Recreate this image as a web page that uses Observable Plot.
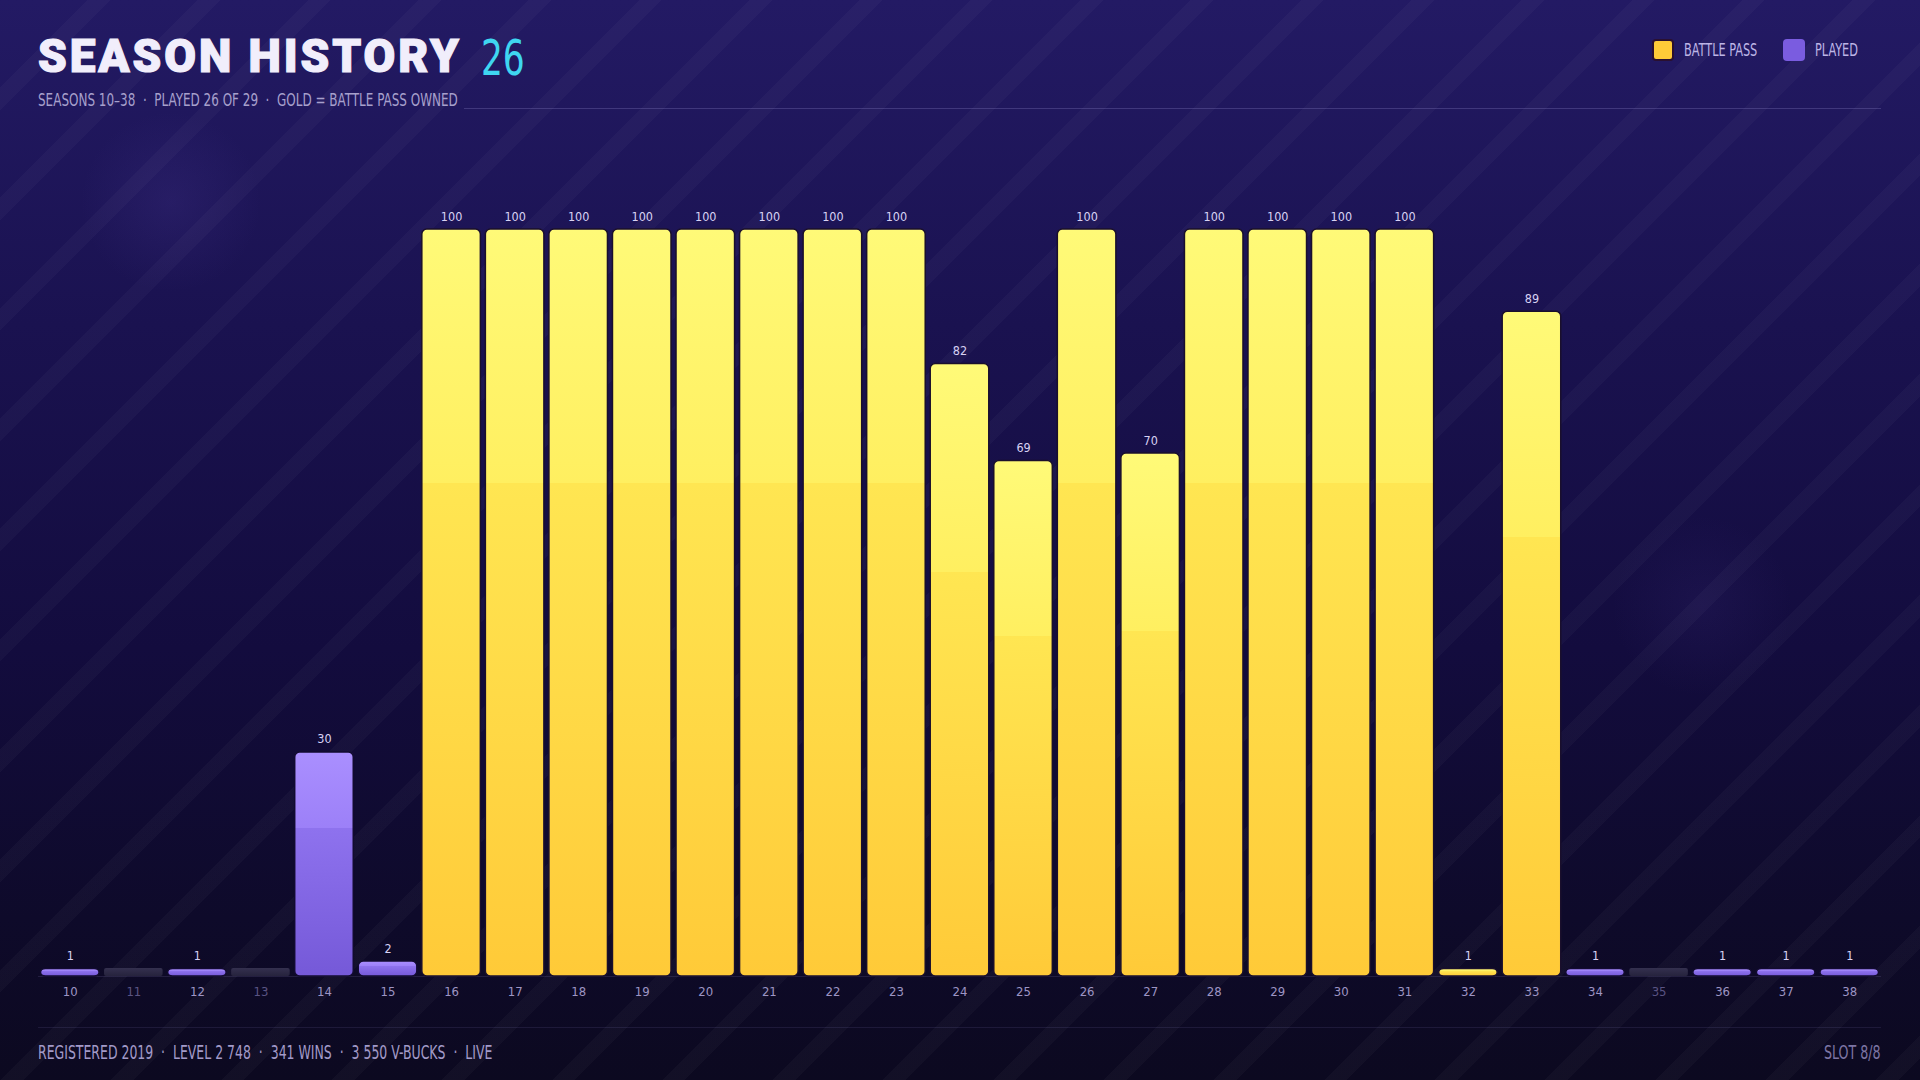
<!DOCTYPE html>
<html>
<head>
<meta charset="utf-8">
<script src="https://cdn.jsdelivr.net/npm/d3@7"></script>
<script src="https://cdn.jsdelivr.net/npm/@observablehq/plot@0.6"></script>
<style>
  html, body { margin: 0; padding: 0; }
  body {
    width: 1920px; height: 1080px; overflow: hidden; position: relative;
    background:
      radial-gradient(circle at 171px 202px, rgba(90,70,170,0.16) 0, rgba(90,70,170,0) 90px),
      radial-gradient(circle at 1702px 606px, rgba(90,70,170,0.10) 0, rgba(90,70,170,0) 90px),
      linear-gradient(180deg, #231a64 0%, #1a1250 30%, #130c3e 60%, #0e0a2a 85%, #0c0920 100%);
  }
  #stripes {
    position: absolute; inset: 0; pointer-events: none;
    background: repeating-linear-gradient(135deg, rgba(255,255,255,0) 0px, rgba(255,255,255,0) 62px, rgba(255,255,255,0.028) 62px, rgba(255,255,255,0.028) 78px);
  }
  .cond { font-family: "DejaVu Sans", sans-serif; font-stretch: condensed; white-space: nowrap; display: inline-block; transform-origin: 0 0; }
  #title { position: absolute; left: 38px; top: 26px; font-family: Roboto, "Noto Sans", sans-serif; font-weight: 900; font-size: 46px; color: #f1eefb; letter-spacing: 2.9px; line-height: 60px; white-space: nowrap; -webkit-text-stroke: 1.2px #f1eefb; }
  #num { position: absolute; left: 481px; top: 29px; font-size: 49px; color: #3fd6f0; line-height: 60px; transform: scaleX(0.78); }
  #subtitle { position: absolute; left: 38px; top: 89px; font-size: 18px; color: #a7a0cc; line-height: 22px; transform: scaleX(0.74); }
  #headline { position: absolute; top: 108px; height: 1px; right: 39px; background: rgba(160,150,220,0.25); }
  #legend { position: absolute; right: 62px; top: 39px; display: flex; align-items: center; }
  #legend .sw { width: 22px; height: 22px; border-radius: 4px; margin-right: 10px; box-sizing: border-box; flex: none; }
  #legend .item { display: flex; align-items: center; margin-left: 26px; }
  #legend .lab { font-size: 17px; color: #bdb5e6; transform: scaleX(0.74); line-height: 22px; }
  #legend .labwrap { display: inline-block; }
  #footline { position: absolute; left: 38px; right: 39px; top: 1027px; height: 1px; background: rgba(160,150,220,0.12); }
  #footer { position: absolute; left: 38px; top: 1041px; font-size: 19px; color: #a29ac8; transform: scaleX(0.73); }
  #slot { position: absolute; right: 39px; top: 1041px; font-size: 19px; color: #7d75a4; transform: scaleX(0.74); transform-origin: 100% 0; }
  #chart { position: absolute; left: 0; top: 120px; }
</style>
</head>
<body>
<div id="stripes"></div>
<div id="title">SEASON HISTORY</div>
<div id="num" class="cond">26</div>
<div id="subtitle" class="cond">SEASONS 10–38 &nbsp;·&nbsp; PLAYED 26 OF 29 &nbsp;·&nbsp; GOLD = BATTLE PASS OWNED</div>
<div id="headline"></div>
<div id="legend">
  <div class="item"><div class="sw" style="background:#ffcb38;border:2px solid #2a1030"></div><span class="labwrap"><span class="lab cond">BATTLE PASS</span></span></div>
  <div class="item"><div class="sw" style="background:#7a5ce0"></div><span class="labwrap"><span class="lab cond">PLAYED</span></span></div>
</div>
<div id="chart"></div>
<div id="footline"></div>
<div id="footer" class="cond">REGISTERED 2019 &nbsp;·&nbsp; LEVEL 2 748 &nbsp;·&nbsp; 341 WINS &nbsp;·&nbsp; 3 550 V-BUCKS &nbsp;·&nbsp; LIVE</div>
<div id="slot" class="cond" style="position:absolute">SLOT 8/8</div>
<script>
const seasons = [10,11,12,13,14,15,16,17,18,19,20,21,22,23,24,25,26,27,28,29,30,31,32,33,34,35,36,37,38];
const levels  = [1,0,1,0,30,2,100,100,100,100,100,100,100,100,82,69,100,70,100,100,100,100,1,89,1,0,1,1,1];
const battlePass = [0,0,0,0,0,0,1,1,1,1,1,1,1,1,1,1,1,1,1,1,1,1,1,1,0,0,0,0,0];

const data = seasons.map((s, i) => ({season: String(s), level: levels[i], bp: battlePass[i] === 1}));

// legend label wrappers take the scaled width so spacing follows the visible text
document.querySelectorAll("#legend .labwrap").forEach(w => {
  const inner = w.firstElementChild;
  w.style.width = inner.getBoundingClientRect().width + "px";
});

// header line starts where subtitle ends
const sub = document.getElementById("subtitle");
document.getElementById("headline").style.left = (sub.getBoundingClientRect().right + 6) + "px";

function defs() {
  const d = d3.create("svg:defs");
  const g = d.append("linearGradient").attr("id", "gold").attr("x1", 0).attr("y1", 0).attr("x2", 0).attr("y2", 1);
  g.append("stop").attr("offset", "0%").attr("stop-color", "#fffa78");
  g.append("stop").attr("offset", "34%").attr("stop-color", "#ffef60");
  g.append("stop").attr("offset", "34%").attr("stop-color", "#ffe652");
  g.append("stop").attr("offset", "100%").attr("stop-color", "#ffca38");
  const p = d.append("linearGradient").attr("id", "purple").attr("x1", 0).attr("y1", 0).attr("x2", 0).attr("y2", 1);
  p.append("stop").attr("offset", "0%").attr("stop-color", "#aa8fff");
  p.append("stop").attr("offset", "34%").attr("stop-color", "#9c80f8");
  p.append("stop").attr("offset", "34%").attr("stop-color", "#8e72ee");
  p.append("stop").attr("offset", "100%").attr("stop-color", "#7559d8");
  const z = d.append("linearGradient").attr("id", "empty").attr("x1", 0).attr("y1", 0).attr("x2", 0).attr("y2", 1);
  z.append("stop").attr("offset", "0%").attr("stop-color", "#34304f");
  z.append("stop").attr("offset", "100%").attr("stop-color", "#26233d");
  return d.node();
}

const chart = Plot.plot({
  width: 1920,
  height: 900,
  marginTop: 109,
  marginBottom: 44,
  marginLeft: 38,
  marginRight: 39,
  style: {background: "transparent", overflow: "visible", fontStretch: "condensed"},
  x: {type: "band", domain: seasons.map(String), padding: 0, round: false, axis: null},
  y: {domain: [0, 100], axis: null},
  marks: [
    defs,
    Plot.ruleY([0], {stroke: "rgba(200,190,255,0.12)", strokeWidth: 1}),
    Plot.barY(data.filter(d => d.level === 0), {x: "season", y: "level", fill: "url(#empty)", insetTop: -8, insetLeft: 2.5, insetRight: 2.5, rx: 2}),
    Plot.barY(data.filter(d => d.level > 0 && !d.bp), {x: "season", y: "level", fill: "url(#purple)", stroke: "#120b30", strokeWidth: 1.5, insetLeft: 2.5, insetRight: 2.5, rx: 5}),
    Plot.barY(data.filter(d => d.bp), {x: "season", y: "level", fill: "url(#gold)", stroke: "#1a0f2c", strokeWidth: 1.5, insetLeft: 2.5, insetRight: 2.5, rx: 5}),
    Plot.text(data.filter(d => d.level > 0), {x: "season", y: "level", text: d => String(d.level), dy: -9, lineAnchor: "bottom", fill: "#d8d2f4", fontSize: 12.5, fontWeight: 500, fontFamily: "DejaVu Sans"}),
    Plot.text(data.filter(d => d.level > 0), {x: "season", text: "season", frameAnchor: "bottom", dy: 19, fill: "#9d95c4", fontSize: 13, fontFamily: "DejaVu Sans"}),
    Plot.text(data.filter(d => d.level === 0), {x: "season", text: "season", frameAnchor: "bottom", dy: 19, fill: "#5a5483", fontSize: 13, fontFamily: "DejaVu Sans"})
  ]
});
document.getElementById("chart").appendChild(chart);
</script>
</body>
</html>
